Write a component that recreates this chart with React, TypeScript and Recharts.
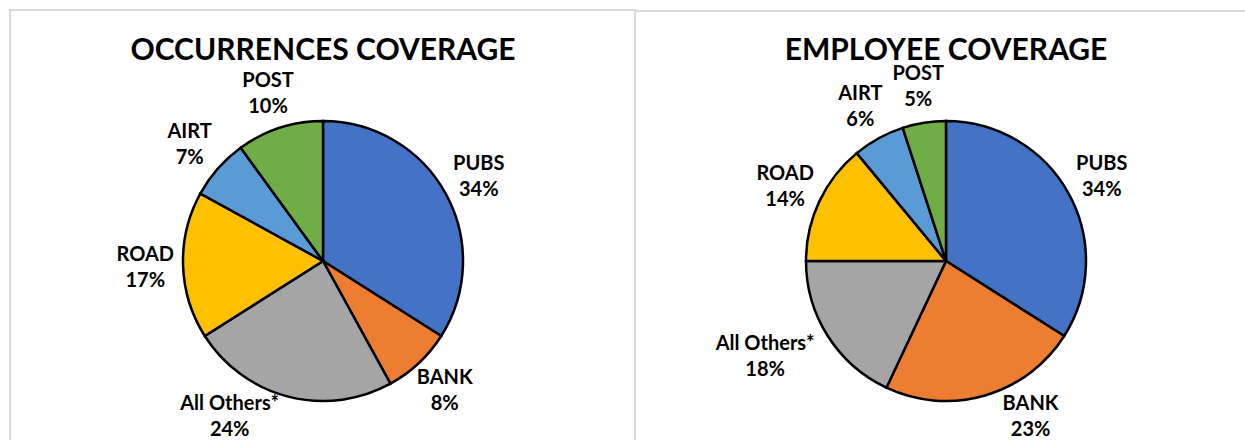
import React from 'react';
import { PieChart, Pie, Cell } from 'recharts';

const categories = ['PUBS', 'BANK', 'All Others*', 'ROAD', 'AIRT', 'POST'];
const occurrenceShares = [34, 8, 24, 17, 7, 10];
const employeeShares = [34, 23, 18, 14, 6, 5];

const sliceColors = ['#4472C4', '#ED7D31', '#A5A5A5', '#FFC000', '#5B9BD5', '#70AD47'];

const occurrenceData = categories.map((name, i) => ({ name, value: occurrenceShares[i] }));
const employeeData = categories.map((name, i) => ({ name, value: employeeShares[i] }));

const RAD = Math.PI / 180;
const LABEL_GAP = 17;
const LABEL_FONT = 20;
const LABEL_BOX_H = 40; // cap top of name to baseline of percent
const MAX_BOX_CENTER_Y = 416;

// outside-end labels like Excel: the label box sits just off the rim,
// and slides along the rim circle when it would drop off the bottom
const renderLabel = (props: any) => {
  const { cx, cy, midAngle, outerRadius, name, value } = props;
  const r = outerRadius + LABEL_GAP;
  const cos = Math.cos(midAngle * RAD);
  const sin = Math.sin(midAngle * RAD);
  const w = Math.max(name.length, 3) * LABEL_FONT * 0.52;
  let ax = cx + r * cos;
  let ay = cy - r * sin;
  let bx = ax + (w / 2) * cos;
  let by = ay - (LABEL_BOX_H / 2) * sin;
  if (by > MAX_BOX_CENTER_Y) {
    ay = MAX_BOX_CENTER_Y + (LABEL_BOX_H / 2) * sin;
    const dy = ay - cy;
    const dx = Math.sqrt(Math.max(r * r - dy * dy, 0));
    ax = cx + (cos < 0 ? -dx : dx);
    bx = ax + (w / 2) * cos;
    by = MAX_BOX_CENTER_Y;
  }
  return (
    <text
      x={bx}
      y={by}
      textAnchor="middle"
      fill="#000"
      fontFamily="Lato, 'Open Sans', sans-serif"
      fontWeight="bold"
      fontSize={LABEL_FONT}
    >
      <tspan x={bx} dy={-6}>{name}</tspan>
      <tspan x={bx} dy={26}>{`${value}%`}</tspan>
    </text>
  );
};

const titleStyle: React.CSSProperties = {
  position: 'absolute',
  top: 37,
  fontFamily: 'Lato, "Open Sans", sans-serif',
  fontWeight: 'bold',
  fontSize: 30,
  lineHeight: '22px',
  color: '#000',
  textAlign: 'center',
  whiteSpace: 'nowrap',
};

const CoveragePie = ({ data, cx }: { data: { name: string; value: number }[]; cx: number }) => (
  <PieChart width={620} height={440} margin={{ top: 0, right: 0, bottom: 0, left: 0 }}>
    <Pie
      data={data}
      dataKey="value"
      nameKey="name"
      cx={cx}
      cy={261}
      outerRadius={140}
      startAngle={90}
      endAngle={-270}
      stroke="#000"
      strokeWidth={2.5}
      label={renderLabel}
      labelLine={false}
      isAnimationActive={false}
    >
      {data.map((d, i) => (
        <Cell key={d.name} fill={sliceColors[i]} />
      ))}
    </Pie>
  </PieChart>
);

export default function App() {
  return (
    <div
      style={{
        position: 'absolute',
        left: 0,
        top: 0,
        width: 1245,
        height: 440,
        overflow: 'hidden',
        background: '#fff',
      }}
    >
      <div
        style={{
          position: 'absolute',
          left: 9,
          top: 9,
          width: 625,
          height: 440,
          borderLeft: '2px solid #d9d9d9',
          borderTop: '2px solid #d9d9d9',
        }}
      />
      <div
        style={{
          position: 'absolute',
          left: 634,
          top: 10,
          width: 620,
          height: 440,
          borderLeft: '2px solid #d9d9d9',
          borderTop: '2px solid #d9d9d9',
        }}
      />
      <div style={{ ...titleStyle, left: 0, width: 646 }}>OCCURRENCES COVERAGE</div>
      <div style={{ ...titleStyle, left: 646, width: 600 }}>EMPLOYEE COVERAGE</div>
      <div style={{ position: 'absolute', left: 0, top: 0 }}>
        <CoveragePie data={occurrenceData} cx={323} />
      </div>
      <div style={{ position: 'absolute', left: 635, top: 0 }}>
        <CoveragePie data={employeeData} cx={311} />
      </div>
    </div>
  );
}
